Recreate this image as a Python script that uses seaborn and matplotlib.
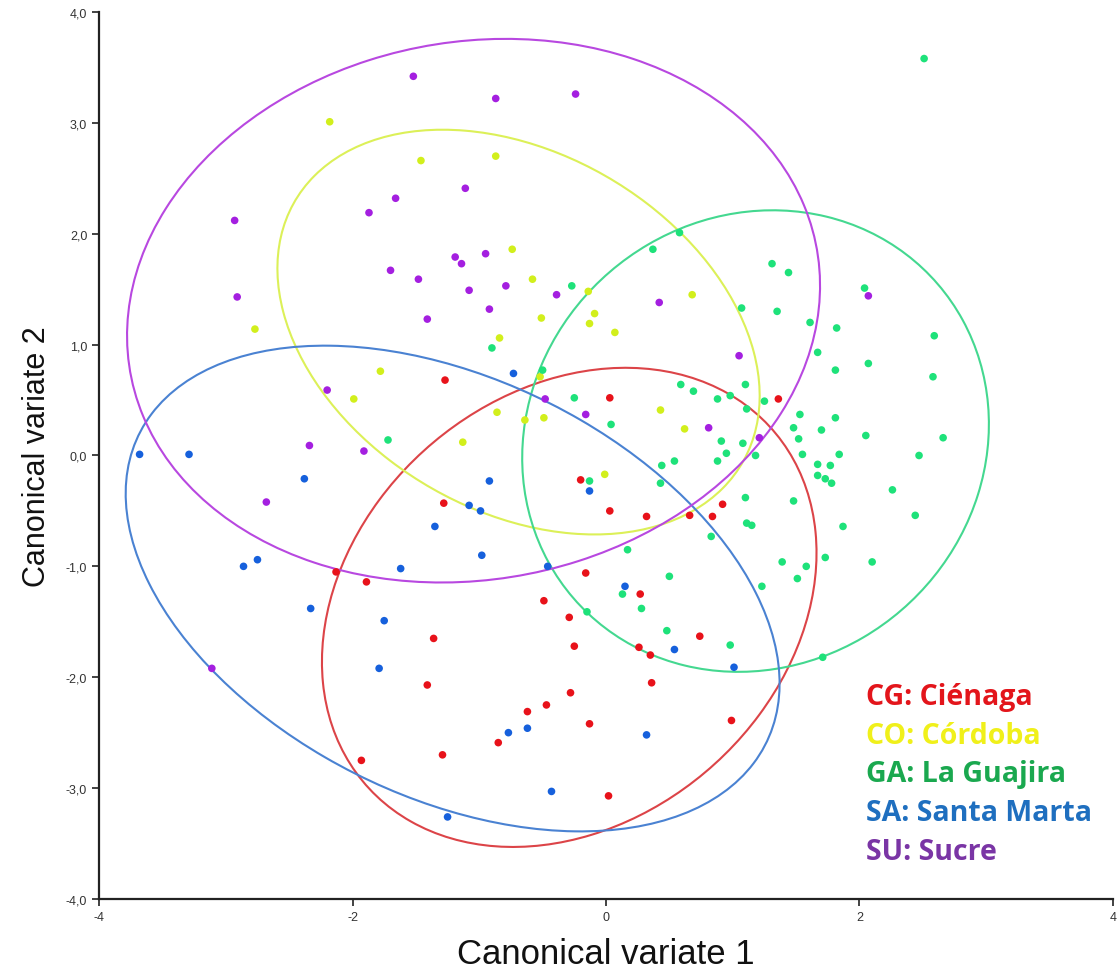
import pandas as pd
import matplotlib
matplotlib.use("Agg")
import matplotlib.pyplot as plt
import seaborn as sns
from matplotlib.patches import Ellipse
from matplotlib.ticker import FuncFormatter, MultipleLocator

# Group codes and legend names
groups = ["CG", "CO", "GA", "SA", "SU"]
group_names = ["Ciénaga", "Córdoba", "La Guajira", "Santa Marta", "Sucre"]

# Canonical scores
cg_x = [-1.27, -1.28, -2.13, -1.89, 0.03, 1.36, -0.20, 0.03, 0.32, 0.66, 0.84, 0.92,
        -0.16, 0.27, -0.49, -0.29, -1.36, -1.41, -1.93, -1.29, -0.25, 0.26, 0.35, 0.74,
        0.36, -0.28, -0.62, -0.47, -0.13, -0.85, 0.99, 0.02]
cg_y = [0.68, -0.43, -1.05, -1.14, 0.52, 0.51, -0.22, -0.50, -0.55, -0.54, -0.55, -0.44,
        -1.06, -1.25, -1.31, -1.46, -1.65, -2.07, -2.75, -2.70, -1.72, -1.73, -1.80, -1.63,
        -2.05, -2.14, -2.31, -2.25, -2.42, -2.59, -2.39, -3.07]

co_x = [-2.18, -1.46, -0.87, -2.77, -0.74, -0.58, -0.14, -0.09, -0.51, -0.13, 0.68, 0.07,
        -0.84, -1.78, -1.99, -0.52, -0.86, -0.64, -0.49, -1.13, 0.43, 0.62, -0.01]
co_y = [3.01, 2.66, 2.70, 1.14, 1.86, 1.59, 1.48, 1.28, 1.24, 1.19, 1.45, 1.11,
        1.06, 0.76, 0.51, 0.71, 0.39, 0.32, 0.34, 0.12, 0.41, 0.24, -0.17]

ga_x = [2.51, 0.58, 0.37, 1.31, 1.44, -0.27, 1.07, 1.35, 2.04, 1.61, 1.82, 2.59, 1.67,
        2.07, 1.81, 2.58, 1.53, 1.81, 1.48, 1.70, 1.52, 2.05, 2.66, 1.55, 1.84, 1.67, 1.77,
        2.47, 1.67, 1.73, 1.78, 1.48, 2.26, 2.44, 1.87, 1.73, 2.10, 1.39, 1.58, 1.51,
        -0.90, -0.50, 0.59, 0.69, 0.88, 0.98, 1.10, 1.25, -0.25, 0.04, 1.11, 0.91, 1.08,
        0.95, 0.88, 1.18, 0.54, 0.44, -0.13, 0.43, 1.10, 1.11, 1.15, 0.83, 0.17, 0.50,
        1.23, 0.13, 0.28, -0.15, 0.48, 0.98, 1.71, -1.72]
ga_y = [3.58, 2.01, 1.86, 1.73, 1.65, 1.53, 1.33, 1.30, 1.51, 1.20, 1.15, 1.08, 0.93,
        0.83, 0.77, 0.71, 0.37, 0.34, 0.25, 0.23, 0.15, 0.18, 0.16, 0.01, 0.01, -0.08, -0.09,
        0.00, -0.18, -0.21, -0.25, -0.41, -0.31, -0.54, -0.64, -0.92, -0.96, -0.96, -1.00, -1.11,
        0.97, 0.77, 0.64, 0.58, 0.51, 0.54, 0.64, 0.49, 0.52, 0.28, 0.42, 0.13, 0.11,
        0.02, -0.05, 0.00, -0.05, -0.09, -0.23, -0.25, -0.38, -0.61, -0.63, -0.73, -0.85, -1.09,
        -1.18, -1.25, -1.38, -1.41, -1.58, -1.71, -1.82, 0.14]

sa_x = [-3.68, -3.29, -2.38, -1.35, -2.86, -2.75, -1.62, -2.33, -1.75, -1.79, -1.25, -0.73,
        -0.92, -0.13, -1.08, -0.99, -0.98, -0.46, 0.15, 0.54, 1.01, -0.77, -0.62, 0.32, -0.43]
sa_y = [0.01, 0.01, -0.21, -0.64, -1.00, -0.94, -1.02, -1.38, -1.49, -1.92, -3.26, 0.74,
        -0.23, -0.32, -0.45, -0.50, -0.90, -1.00, -1.18, -1.75, -1.91, -2.50, -2.46, -2.52, -3.03]

su_x = [-1.52, -0.87, -0.24, -2.93, -1.87, -1.66, -1.11, -2.91, -1.70, -1.48, -1.19, -1.14,
        -0.95, -1.41, -1.08, -0.79, -0.92, -0.39, 0.42, 2.07, -2.20, -2.34, -1.91, -2.68,
        -0.48, -0.16, 1.05, 0.81, 1.21, -3.11]
su_y = [3.42, 3.22, 3.26, 2.12, 2.19, 2.32, 2.41, 1.43, 1.67, 1.59, 1.79, 1.73,
        1.82, 1.23, 1.49, 1.53, 1.32, 1.45, 1.38, 1.44, 0.59, 0.09, 0.04, -0.42,
        0.51, 0.37, 0.90, 0.25, 0.16, -1.92]

# Group ellipses: centre, full width, full height, rotation (degrees)
ell_cx = [-0.29, -0.69, 1.18, -1.21, -1.045]
ell_cy = [-1.37, 1.113, 0.13, -1.20, 1.306]
ell_w = [4.60, 4.28, 4.20, 5.70, 5.55]
ell_h = [3.57, 3.08, 3.64, 3.65, 4.81]
ell_angle = [57.1, -41.25, 74.6, -33.6, 20.1]

point_colors = ["#e8121a", "#d2ef1c", "#1ee27a", "#1660dc", "#a41fe0"]
ellipse_colors = ["#dc4448", "#dcf058", "#44d890", "#4a82d2", "#b848e0"]
label_colors = ["#e3151b", "#f0f01a", "#1aa84f", "#1f6fbf", "#7a35a5"]


def build_frame():
    xs = [cg_x, co_x, ga_x, sa_x, su_x]
    ys = [cg_y, co_y, ga_y, sa_y, su_y]
    parts = []
    for g, x, y in zip(groups, xs, ys):
        parts.append(pd.DataFrame({"cv1": x, "cv2": y, "group": g}))
    return pd.concat(parts, ignore_index=True)


def main():
    df = build_frame()

    sns.set_style("ticks")
    plt.rcParams["font.family"] = ["Liberation Sans", "DejaVu Sans"]
    plt.rcParams["axes.unicode_minus"] = False

    fig = plt.figure(figsize=(11.19, 9.70), dpi=100)
    ax = fig.add_axes([0.0885, 0.0722, 0.9061, 0.9144])

    sns.scatterplot(
        data=df, x="cv1", y="cv2", hue="group", hue_order=groups,
        palette=dict(zip(groups, point_colors)), s=30, linewidth=0,
        legend=False, ax=ax, zorder=3
    )

    for i in range(len(groups)):
        ax.add_patch(Ellipse((ell_cx[i], ell_cy[i]), ell_w[i], ell_h[i],
                             angle=ell_angle[i], fill=False,
                             edgecolor=ellipse_colors[i], linewidth=1.5, zorder=2))

    ax.set_xlim(-4, 4)
    ax.set_ylim(-4, 4)
    ax.xaxis.set_major_locator(MultipleLocator(2))
    ax.yaxis.set_major_locator(MultipleLocator(1))
    ax.yaxis.set_major_formatter(FuncFormatter(lambda v, p: f"{v:.1f}".replace(".", ",")))
    ax.xaxis.set_major_formatter(FuncFormatter(lambda v, p: f"{v:.0f}"))

    sns.despine(ax=ax)
    for side in ["left", "bottom"]:
        ax.spines[side].set_linewidth(1.6)
        ax.spines[side].set_color("#222222")
    ax.tick_params(axis="both", length=5, width=1.2, labelsize=9,
                   colors="#222222", labelcolor="#333333")
    for lab in ax.get_xticklabels() + ax.get_yticklabels():
        lab.set_family(["Liberation Sans Narrow", "Liberation Sans"])

    ax.set_xlabel("Canonical variate 1", fontsize=25, color="#111111", labelpad=10)
    ax.set_ylabel("Canonical variate 2", fontsize=22, color="#111111", labelpad=10)

    # Group legend as coloured text
    for i, (g, name) in enumerate(zip(groups, group_names)):
        ax.text(0.756, 0.228 - i * 0.0435, f"{g}: {name}", transform=ax.transAxes,
                fontsize=20.5, fontweight="bold", color=label_colors[i],
                family=["Open Sans", "DejaVu Sans"], ha="left", va="center")

    fig.savefig("out.png", dpi=100)
    plt.close(fig)


if __name__ == "__main__":
    main()
